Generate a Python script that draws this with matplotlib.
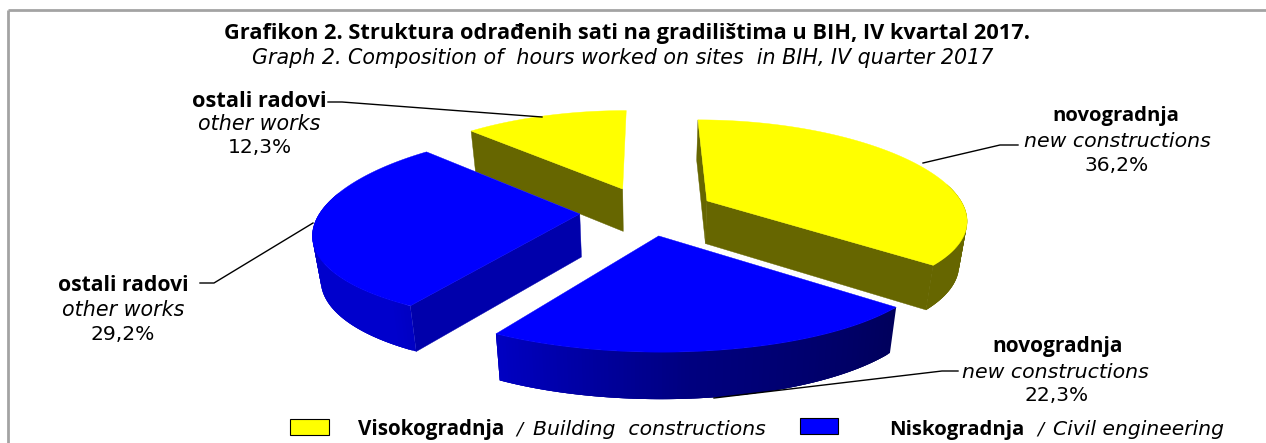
#!/usr/bin/env python
# -*- coding: utf-8 -*-
import numpy as np
import matplotlib
matplotlib.use('Agg')
import matplotlib.pyplot as plt
from matplotlib.patches import Polygon, Rectangle

plt.rcParams['font.family'] = ['Open Sans', 'DejaVu Sans']

W, H = 1266, 443

# data
shares = [36.2, 22.3, 29.2, 12.3]
label_bs = ['novogradnja', 'novogradnja', 'ostali radovi', 'ostali radovi']
label_en = ['new constructions', 'new constructions', 'other works', 'other works']
base_colors = [(1, 1, 0), (0, 0, 1), (0, 0, 1), (1, 1, 0)]

# pie layout, in pixels
X0, Y0 = 647, 211
RX, RY = 259, 94
KX, KY = 0.18, 0.13
EXPLODE = 0.26
DEPTH = 43
DEPTH_X = 0.975

fig = plt.figure(figsize=(W / 100, H / 100), dpi=100)
ax = fig.add_axes([0, 0, 1, 1])
ax.set_xlim(0, W)
ax.set_ylim(H, 0)
ax.axis('off')
renderer = fig.canvas.get_renderer()


def project(u, v, bottom=False):
    px = 1 / (1 + KX * v)
    py = 1 / (1 + KY * v)
    x = X0 + RX * u * px
    y = Y0 - RY * v * py
    if bottom:
        x = X0 + (x - X0) * DEPTH_X
        y = y + DEPTH * py ** 0.5
    return x, y


def rim_color(col, t):
    if col[0] > 0:
        return (0.40, 0.40, 0)
    # darkest where the rim faces right, lighter towards the left
    return (0, 0, np.interp(t, [130, 175, 215], [0.36, 0.50, 0.80]))


def draw_slice(th0, th1, col, zorder, walls):
    mid = np.radians((th0 + th1) / 2)
    ou, ov = EXPLODE * np.sin(mid), EXPLODE * np.cos(mid)
    th = np.radians(np.linspace(th0, th1, 121))
    u = ou + np.sin(th)
    v = ov + np.cos(th)
    xt, yt = project(u, v)
    xb, yb = project(u, v, bottom=True)
    ax_t, ay_t = project(ou, ov)
    ax_b, ay_b = project(ou, ov, bottom=True)
    wall = (0.40, 0.40, 0) if col[0] > 0 else (0, 0, 0.67)
    for i in walls:
        ax.add_patch(Polygon([(ax_t, ay_t), (xt[i], yt[i]), (xb[i], yb[i]), (ax_b, ay_b)],
                             closed=True, fc=wall, ec=wall, lw=0.3, zorder=zorder))
    # rim from overlapping quads, so no seams show between them; the far side is hidden
    for i in range(len(th) - 1):
        if np.cos(th[i]) > 0.2:
            continue
        j = min(i + 3, len(th) - 1)
        ax.add_patch(Polygon(np.column_stack([np.r_[xt[i:j + 1], xb[i:j + 1][::-1]],
                                              np.r_[yt[i:j + 1], yb[i:j + 1][::-1]]]),
                             closed=True, fc=rim_color(col, np.degrees(th[i])), ec='none',
                             zorder=zorder + 0.1))
    ax.add_patch(Polygon(np.vstack([[ax_t, ay_t], np.column_stack([xt, yt])]),
                         closed=True, fc=col, ec=col, lw=0.3, zorder=zorder + 0.2))


def fit_text(x0, x1, y, s, **kw):
    # pick the font size that gives the width the text has in the reference
    t = ax.text(x0, y, s, ha='left', va='baseline', fontsize=12, color='black', **kw)
    w = t.get_window_extent(renderer).width
    t.set_fontsize(12 * (x1 - x0) / w)
    return t


ITALIC = dict(fontstyle='italic', family='DejaVu Sans')

bounds = np.cumsum([0] + shares) / sum(shares) * 360
order = [3, 2, 0, 1]
walls = {0: [0, -1], 1: [], 2: [0], 3: [0]}
for z, i in enumerate(order):
    draw_slice(bounds[i], bounds[i + 1], base_colors[i], 2 + z, walls[i])

# frame: only the top and left sides fall inside the picture
ax.plot([8, 8], [H, 10], color='#a3a3a3', lw=2, solid_capstyle='butt', zorder=1)
ax.plot([8, W], [10, 10], color='#a3a3a3', lw=2, solid_capstyle='butt', zorder=1)

# title
fit_text(224, 1028, 39, 'Grafikon 2. Struktura odrađenih sati na gradilištima u BIH, IV kvartal 2017.',
         fontweight='bold')
fit_text(252, 992, 64, 'Graph 2. Composition of  hours worked on sites  in BIH, IV quarter 2017', **ITALIC)

# slice labels: x ranges and baseline of the three lines
label_boxes = [[(1052, 1178, 121), (1024, 1210, 147), (1084, 1148, 171)],
               [(992, 1122, 352), (962, 1148, 378), (1024, 1088, 401)],
               [(58, 188, 291), (62, 184, 316), (90, 154, 340)],
               [(192, 326, 107), (198, 320, 130), (228, 292, 153)]]
for i in range(4):
    b = label_boxes[i]
    fit_text(b[0][0], b[0][1], b[0][2], label_bs[i], fontweight='bold')
    fit_text(b[1][0], b[1][1], b[1][2], label_en[i], **ITALIC)
    fit_text(b[2][0], b[2][1], b[2][2], ('%.1f%%' % shares[i]).replace('.', ','), family='DejaVu Sans')

# leader lines
leaders = [[(1018, 145), (1000, 145), (923, 163)],
           [(958, 371), (942, 371), (714, 398)],
           [(200, 283), (214, 283), (313, 223)],
           [(328, 102), (342, 102), (542, 117)]]
for pts in leaders:
    xs, ys = zip(*pts)
    ax.plot(xs, ys, color='black', lw=1, zorder=10)

# legend
ax.add_patch(Rectangle((290, 419), 39, 16, fc='yellow', ec='black', lw=0.8, zorder=3))
ax.add_patch(Rectangle((800, 418), 38, 16, fc='blue', ec='black', lw=0.8, zorder=3))
fit_text(358, 504, 435, 'Visokogradnja', fontweight='bold')
ax.text(516, 435, '/', ha='left', va='baseline', fontsize=13, **ITALIC)
fit_text(533, 765, 435, 'Building  constructions', **ITALIC)
fit_text(889, 1024, 435, 'Niskogradnja', fontweight='bold')
ax.text(1037, 435, '/', ha='left', va='baseline', fontsize=13, **ITALIC)
fit_text(1053, 1223, 435, 'Civil engineering', **ITALIC)

fig.savefig('out.png', dpi=100)
